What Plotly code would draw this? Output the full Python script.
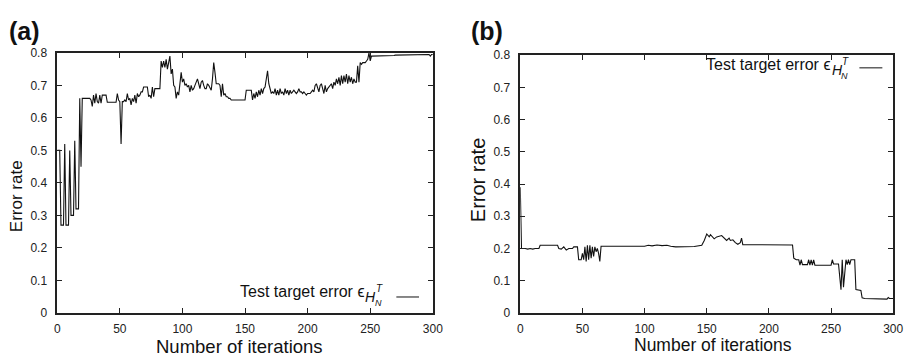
import plotly.graph_objects as go

# ---------------- data ----------------
# Panel (a): test target error per iteration (0..300)
iter_a = list(range(301))
err_a = [
    0.50, 0.50, 0.50, 0.27, 0.27, 0.27, 0.52, 0.27, 0.27, 0.27,
    0.50, 0.30, 0.30, 0.30, 0.53, 0.32, 0.32, 0.32, 0.66, 0.45,
    0.66, 0.66, 0.66, 0.66, 0.66, 0.66, 0.66, 0.655, 0.635, 0.67,
    0.645, 0.675, 0.65, 0.645, 0.67, 0.645, 0.67, 0.67, 0.67, 0.67,
    0.648, 0.648, 0.648, 0.648, 0.648, 0.648, 0.648, 0.648, 0.675, 0.655,
    0.65, 0.52, 0.65, 0.65, 0.655, 0.65, 0.675, 0.655, 0.66, 0.64,
    0.66, 0.65, 0.67, 0.645, 0.675, 0.665, 0.67, 0.68, 0.68, 0.695,
    0.695, 0.695, 0.695, 0.665, 0.67, 0.66, 0.695, 0.665, 0.69, 0.69,
    0.69, 0.69, 0.69, 0.775, 0.755, 0.775, 0.755, 0.78, 0.75, 0.77,
    0.79, 0.735, 0.75, 0.70, 0.695, 0.66, 0.68, 0.67, 0.70, 0.74,
    0.71, 0.72, 0.70, 0.705, 0.695, 0.70, 0.68, 0.70, 0.685, 0.69,
    0.70, 0.71, 0.72, 0.705, 0.69, 0.71, 0.715, 0.70, 0.69, 0.69,
    0.705, 0.70, 0.69, 0.685, 0.72, 0.77, 0.74, 0.705, 0.705, 0.705,
    0.70, 0.665, 0.705, 0.67, 0.675, 0.665, 0.665, 0.66, 0.66, 0.655,
    0.655, 0.655, 0.655, 0.655, 0.655, 0.655, 0.655, 0.655, 0.655, 0.655,
    0.655, 0.685, 0.685, 0.685, 0.685, 0.685, 0.655, 0.675, 0.66, 0.68,
    0.665, 0.685, 0.67, 0.69, 0.675, 0.69, 0.695, 0.72, 0.745, 0.705,
    0.69, 0.675, 0.68, 0.675, 0.69, 0.67, 0.685, 0.67, 0.69, 0.675,
    0.68, 0.67, 0.69, 0.675, 0.685, 0.67, 0.685, 0.675, 0.68, 0.685,
    0.68, 0.675, 0.68, 0.69, 0.68, 0.68, 0.675, 0.68, 0.675, 0.67,
    0.675, 0.675, 0.675, 0.68, 0.685, 0.68, 0.70, 0.705, 0.69, 0.68,
    0.70, 0.705, 0.69, 0.675, 0.70, 0.68, 0.69, 0.695, 0.70, 0.705,
    0.69, 0.71, 0.70, 0.72, 0.705, 0.725, 0.70, 0.73, 0.705, 0.73,
    0.71, 0.735, 0.705, 0.73, 0.71, 0.725, 0.705, 0.72, 0.71, 0.71,
    0.76, 0.71, 0.77, 0.765, 0.77, 0.77, 0.77, 0.775, 0.78, 0.80,
    0.775, 0.79, 0.79, 0.792, 0.792, 0.792, 0.792, 0.792, 0.792, 0.792,
    0.792, 0.792, 0.792, 0.792, 0.792, 0.792, 0.792, 0.792, 0.792, 0.792,
    0.793, 0.793, 0.793, 0.793, 0.793, 0.793, 0.793, 0.793, 0.793, 0.793,
    0.793, 0.793, 0.793, 0.793, 0.794, 0.794, 0.794, 0.794, 0.794, 0.794,
    0.795, 0.795, 0.795, 0.795, 0.795, 0.795, 0.795, 0.795, 0.79, 0.795,
    0.795,
]

# Panel (b): test target error, vertices of the curve
iter_b = [0, 1, 4, 6, 8, 10, 12, 15, 16, 30, 31, 33, 35, 37, 39, 42, 43, 46,
          47, 49, 50, 51, 52, 53, 54, 55, 56, 57, 58, 59, 60, 61, 62, 63, 64,
          65, 100, 103, 106, 110, 114, 118, 121, 125, 140, 144, 146, 148, 150,
          152, 153, 156, 158, 162, 164, 166, 168, 169, 171, 173, 175, 177, 178,
          179, 219, 220, 222, 224, 225, 226, 227, 231, 232, 233, 234, 235, 236,
          237, 250, 251, 252, 256, 258, 259, 260, 262, 263, 264, 265, 266, 269,
          270, 274, 275, 277, 290, 295, 296, 297, 300]
err_b = [0.39, 0.20, 0.20, 0.198, 0.20, 0.198, 0.20, 0.20, 0.21, 0.21, 0.20,
         0.198, 0.205, 0.195, 0.20, 0.20, 0.205, 0.205,
         0.165, 0.165, 0.185, 0.165, 0.205, 0.16, 0.21, 0.165, 0.21, 0.17,
         0.205, 0.175, 0.205, 0.19, 0.20, 0.185, 0.16,
         0.207, 0.207, 0.210, 0.208, 0.211, 0.209, 0.210, 0.207, 0.205, 0.206,
         0.208, 0.21, 0.225, 0.245,
         0.236, 0.243, 0.230, 0.236, 0.240, 0.233, 0.225, 0.232, 0.225, 0.227,
         0.218, 0.213, 0.218, 0.232,
         0.212, 0.211, 0.17, 0.165, 0.165, 0.148, 0.165, 0.150, 0.150, 0.165,
         0.148, 0.165, 0.148, 0.165,
         0.148, 0.148, 0.165, 0.152, 0.152, 0.072, 0.165, 0.08, 0.165, 0.15,
         0.165, 0.15, 0.165, 0.165,
         0.073, 0.070, 0.047, 0.045, 0.043, 0.043, 0.048, 0.045, 0.045]

x_ticks = [0, 50, 100, 150, 200, 250, 300]
x_tick_labels = ["0", "50", "100", "150", "200", "250", "300"]
y_ticks = [0, 0.1, 0.2, 0.3, 0.4, 0.5, 0.6, 0.7, 0.8]
y_tick_labels = ["0", "0.1", "0.2", "0.3", "0.4", "0.5", "0.6", "0.7", "0.8"]

x_title = "Number of iterations"
y_title = "Error rate"
legend_text = "Test target error ϵ"

# ---------------- figure ----------------
W, H = 918, 361
FONT = "Liberation Sans, Arial, Helvetica, sans-serif"


def px(x):
    return x / W


def py(y):
    return 1 - y / H


fig = go.Figure()
fig.add_trace(go.Scatter(x=iter_a, y=err_a, mode="lines",
                         line=dict(color="#111111", width=1.1),
                         xaxis="x", yaxis="y", showlegend=False))
fig.add_trace(go.Scatter(x=iter_b, y=err_b, mode="lines",
                         line=dict(color="#111111", width=1.1),
                         xaxis="x2", yaxis="y2", showlegend=False))

axis_common = dict(showline=True, linecolor="#222222", linewidth=1.5,
                   mirror="ticks", ticks="inside", ticklen=5, tickwidth=1,
                   tickcolor="#222222", showgrid=False, zeroline=False,
                   tickfont=dict(family=FONT, size=12, color="#222222"))
x_extra = dict(ticklabelstandoff=4)
y_extra = dict(ticklabelstandoff=6)

fig.update_layout(
    width=W, height=H, margin=dict(l=0, r=0, t=0, b=0),
    paper_bgcolor="white", plot_bgcolor="white",
    xaxis=dict(domain=[px(55), px(436)], range=[0, 300], anchor="y",
               tickvals=x_ticks, ticktext=x_tick_labels, **axis_common, **x_extra),
    yaxis=dict(domain=[py(318.3), py(47.7)], range=[0, 0.8], anchor="x",
               tickvals=y_ticks, ticktext=y_tick_labels, **axis_common, **y_extra),
    xaxis2=dict(domain=[px(524.7), px(903)], range=[0, 300], anchor="y2",
                tickvals=x_ticks, ticktext=x_tick_labels, **axis_common, **x_extra),
    yaxis2=dict(domain=[py(318.3), py(50)], range=[0, 0.8], anchor="x2",
                tickvals=y_ticks, ticktext=y_tick_labels, **axis_common, **y_extra),
)


def ann(text, x, y, size, xanchor="center", yanchor="middle", angle=0):
    fig.add_annotation(text=text, x=px(x), y=py(y), xref="paper", yref="paper",
                       showarrow=False, xanchor=xanchor, yanchor=yanchor,
                       textangle=angle, borderpad=0,
                       font=dict(family=FONT, size=size, color="#111111"))


# panel labels
ann("<b>(a)</b>", 22, 25, 25)
ann("<b>(b)</b>", 490.5, 25, 25)

# axis titles
ann(y_title, 14, 197, 17, angle=-90)
ann(y_title, 482, 180, 20, angle=-90)
ann(x_title, 240, 353, 18.5)
ann(x_title, 720, 351.5, 17.5)

# legends (text + math + line sample)
for (tx, ty, lx0, lx1, ly) in [(367, 296, 399, 422, 301.7),
                               (840, 60, 868.7, 892, 63.3)]:
    ann(legend_text, tx, ty, 16, xanchor="right")
    ann("<i>H</i>", tx + 6, ty + 6, 14)
    ann("<i>T</i>", tx + 15, ty - 3, 10)
    ann("<i>N</i>", tx + 14, ty + 12, 9)
    fig.add_shape(type="line", xref="paper", yref="paper",
                  x0=px(lx0), x1=px(lx1), y0=py(ly), y1=py(ly),
                  line=dict(color="#111111", width=1))

fig.write_html("out.html")
